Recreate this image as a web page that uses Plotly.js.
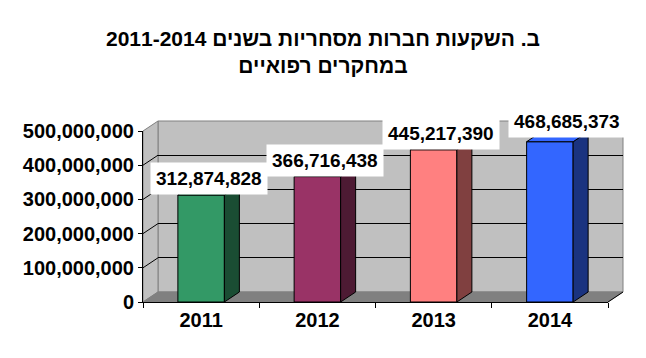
<!DOCTYPE html>
<html>
<head>
<meta charset="utf-8">
<script src="https://cdn.plot.ly/plotly-3.0.1.min.js"></script>
<style>html,body{margin:0;padding:0;background:#fff;}#chart{width:646px;height:358px;}</style>
</head>
<body>
<div id="chart"></div>
<script>
// ---- data ----
var years = ['2011', '2012', '2013', '2014'];
var values = [312874828, 366716438, 445217390, 468685373];
var yTicks = [0, 100000000, 200000000, 300000000, 400000000, 500000000];
var gridVals = [100000000, 200000000, 300000000, 400000000];
var titleLines = ['ב. השקעות חברות מסחריות בשנים 2011-2014', 'במחקרים רפואיים'];

// ---- styles ----
var frontColors = ['#339966', '#993366', '#FF8080', '#3366FF'];
var sideColors = ['#1A4D33', '#4D1A33', '#804040', '#1A3380'];
var labelXShift = [0, 0, 0, 10];
var labelYShift = [0, 0, 0, 4];
var FONT = 'Liberation Sans, Arial, sans-serif';

var W = 646, H = 358;
var YMAX = 500000000;
var F = {l: 143, r: 608, t: 131, b: 302};   // front plane in px
var D = {x: 15, y: 10};                      // 3D depth offset in px
var BAR_W = 0.4;

function px(x) { return x / W; }
function py(y) { return 1 - y / H; }
function yf(v) { return F.b - v / YMAX * (F.b - F.t); }
function yb(v) { return yf(v) - D.y; }

var dxU = D.x / ((F.r - F.l) / years.length);
var dyU = D.y * YMAX / (F.b - F.t);

// ---- traces ----
var traces = [];
traces.push({type: 'scatter', x: [], y: [], xaxis: 'x', yaxis: 'y', showlegend: false, hoverinfo: 'skip'});
traces.push({
  type: 'bar', x: years, y: values, xaxis: 'x2', yaxis: 'y2', width: BAR_W,
  marker: {color: frontColors, line: {color: '#000', width: 1}},
  hoverinfo: 'none', showlegend: false
});
values.forEach(function (v, i) {
  var xr = i + BAR_W / 2, xl = i - BAR_W / 2;
  traces.push({
    type: 'scatter', mode: 'lines', xaxis: 'x3', yaxis: 'y2', fill: 'toself',
    x: [xr, xr + dxU, xr + dxU, xr, xr],
    y: [0, dyU, v + dyU, v, 0],
    fillcolor: sideColors[i], line: {color: '#000', width: 1},
    hoverinfo: 'skip', showlegend: false, cliponaxis: false
  });
  traces.push({
    type: 'scatter', mode: 'lines', xaxis: 'x3', yaxis: 'y2', fill: 'toself',
    x: [xl, xr, xr + dxU, xl + dxU, xl],
    y: [v, v, v + dyU, v + dyU, v],
    fillcolor: frontColors[i], line: {color: '#000', width: 1},
    hoverinfo: 'skip', showlegend: false, cliponaxis: false
  });
});

// ---- walls (decoration) ----
function path(pts) {
  return 'M' + pts.map(function (p) { return px(p[0]) + ',' + py(p[1]); }).join('L') + 'Z';
}
var shapes = [];
// back wall
shapes.push({type: 'rect', xref: 'paper', yref: 'paper', layer: 'below',
  x0: px(F.l + D.x), x1: px(F.r + D.x), y0: py(yb(0)), y1: py(yb(YMAX)),
  fillcolor: '#C0C0C0', line: {color: '#808080', width: 1}});
// side wall
shapes.push({type: 'path', xref: 'paper', yref: 'paper', layer: 'below',
  path: path([[F.l, yf(0)], [F.l, yf(YMAX)], [F.l + D.x, yb(YMAX)], [F.l + D.x, yb(0)]]),
  fillcolor: '#C0C0C0', line: {color: '#808080', width: 1}});
// floor
shapes.push({type: 'path', xref: 'paper', yref: 'paper', layer: 'below',
  path: path([[F.l, yf(0)], [F.r, yf(0)], [F.r + D.x, yb(0)], [F.l + D.x, yb(0)]]),
  fillcolor: '#808080', line: {color: '#808080', width: 1}});
// side wall grid diagonals
gridVals.forEach(function (v) {
  shapes.push({type: 'line', xref: 'paper', yref: 'paper', layer: 'below',
    x0: px(F.l), y0: py(yf(v)), x1: px(F.l + D.x), y1: py(yb(v)),
    line: {color: '#000', width: 1}});
});
// floor right edge
shapes.push({type: 'line', xref: 'paper', yref: 'paper', layer: 'above',
  x0: px(F.r), y0: py(yf(0)), x1: px(F.r + D.x), y1: py(yb(0)),
  line: {color: '#000', width: 1}});

// ---- data labels ----
var annotations = values.map(function (v, i) {
  return {
    xref: 'x3', yref: 'y2', x: i + dxU / 2, y: v, xanchor: 'center', yanchor: 'bottom',
    xshift: labelXShift[i], yshift: labelYShift[i],
    text: v.toLocaleString('en-US'), showarrow: false,
    bgcolor: '#FFFFFF', borderpad: 5,
    font: {family: FONT, size: 19, color: '#000', weight: 'bold'}
  };
});

var tickFont = {family: FONT, size: 20, color: '#000', weight: 'bold'};

var layout = {
  width: W, height: H,
  margin: {l: 0, r: 0, t: 0, b: 0},
  paper_bgcolor: '#FFFFFF', plot_bgcolor: 'rgba(0,0,0,0)',
  showlegend: false,
  title: {
    text: '<b>' + titleLines[0] + '</b><br><b>' + titleLines[1] + '</b>',
    font: {family: FONT, size: 21, color: '#000'},
    x: 0.5, xanchor: 'center', xref: 'paper', y: 1 - 46 / H, yanchor: 'top', yref: 'container'
  },
  xaxis: {domain: [px(F.l + D.x), px(F.r + D.x)], anchor: 'y', range: [-0.5, 3.5],
    showgrid: false, zeroline: false, showline: false, showticklabels: false, ticks: '', fixedrange: true},
  yaxis: {domain: [py(yb(0)), py(yb(YMAX))], anchor: 'x', range: [0, YMAX],
    tickvals: gridVals, showgrid: true, gridcolor: '#000', gridwidth: 1,
    zeroline: false, showline: false, showticklabels: false, ticks: '', fixedrange: true},
  xaxis2: {domain: [px(F.l), px(F.r)], anchor: 'y2', type: 'category',
    categoryorder: 'array', categoryarray: years, range: [-0.5, 3.5],
    tickson: 'boundaries', ticks: 'outside', ticklen: 5, tickcolor: '#000', tickwidth: 1,
    showline: true, linecolor: '#000', linewidth: 1, showgrid: false, zeroline: false,
    tickfont: tickFont, fixedrange: true},
  yaxis2: {domain: [py(yf(0)), py(yf(YMAX))], anchor: 'x2', range: [0, YMAX],
    tickvals: yTicks, tickformat: ',d', ticks: 'outside', ticklen: 4, tickcolor: '#000',
    showline: true, linecolor: '#000', linewidth: 1, showgrid: false, zeroline: false,
    tickfont: tickFont, fixedrange: true},
  xaxis3: {overlaying: 'x2', anchor: 'y2', range: [-0.5, 3.5], visible: false, fixedrange: true},
  shapes: shapes,
  annotations: annotations
};

Plotly.newPlot('chart', traces, layout, {staticPlot: true, displayModeBar: false});
</script>
</body>
</html>
